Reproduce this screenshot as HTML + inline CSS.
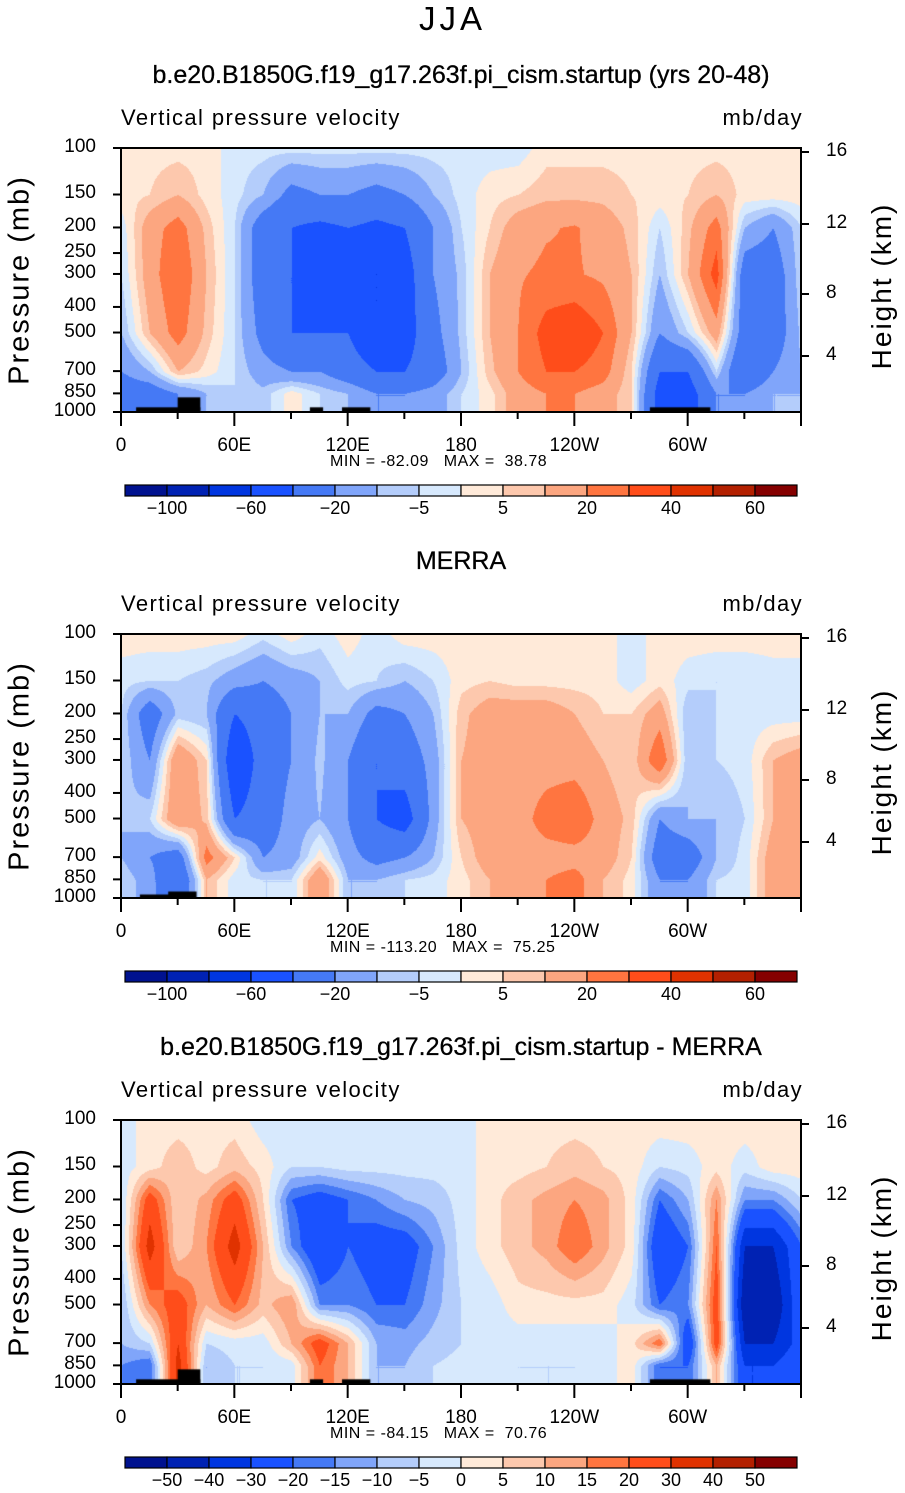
<!DOCTYPE html>
<html><head><meta charset="utf-8">
<style>
body{margin:0;background:#fff;width:905px;height:1493px;position:relative;overflow:hidden;font-family:"Liberation Sans",sans-serif;}
.t{position:absolute;white-space:nowrap;color:#000;}
canvas{position:absolute;}
</style></head>
<body>
<div class="t" style="left:0;width:905px;text-align:center;top:0px;font-size:33px;font-weight:200;letter-spacing:4px;">JJA</div>
<div id="root"></div>
<script>
const lons=[0,15,30,45,60,75,90,105,120,135,150,165,180,195,210,225,240,255,270,285,300,315,330,345,360];
const pres=[100,150,200,300,500,700,850,1000];
const levelsMain=[-100,-80,-60,-40,-20,-10,-5,0,5,10,20,30,40,50,60];
const levelsDiff=[-50,-40,-30,-20,-15,-10,-5,0,5,10,15,20,30,40,50];
const labelsMain=["-100","-60","-20","-5","5","20","40","60"];
const labelsMainIdx=[0,2,4,6,8,10,12,14];
const labelsDiff=["-50","-40","-30","-20","-15","-10","-5","0","5","10","15","20","30","40","50"];
const colors=["#00128f","#0022b3","#0036e0","#1a52ff","#4579f5","#80a5fa","#b4cdfb","#d7e9fd","#ffead9","#fdc8ad","#fca680","#ff7540","#ff4d1a","#e03200","#b32000","#850000"];
const field1=[
[3,3,3,3,-3,-3,-3,-3,-3,-3,-3,-3,-3,-3,-3,3,3,3,3,3,3,3,3,3,3],
[3,5,10,3,-3,-10,-25,-20,-20,-25,-20,-10,-3,3,5,8,8,8,5,3,5,10,3,3,3],
[-3,15,25,8,-5,-30,-40,-45,-40,-45,-40,-20,-5,5,15,19,21,15,8,-5,8,25,-10,-20,-5],
[-5,15,30,10,-5,-30,-40,-60,-40,-60,-50,-20,-8,10,19,22,21,18,10,-10,10,35,-30,-30,-5],
[-10,10,25,8,-5,-25,-40,-40,-40,-60,-50,-25,-8,10,20,35,40,30,10,-20,-5,15,-30,-30,-8],
[-20,-10,10,3,-5,-15,-20,-20,-30,-40,-40,-30,-10,8,20,30,30,25,5,-40,-40,-5,-40,-20,-10],
[-30,-30,-20,-10,-5,-8,3,-5,-10,-20,-20,-15,-5,3,15,20,20,15,5,-50,-50,-20,-20,-10,-10],
[-30,-30,-20,-10,-5,-8,3,-5,-10,-20,-20,-15,-5,3,15,20,20,15,5,-50,-50,-20,-20,-10,-10]];
const field2=[
[3,3,3,3,3,-3,3,-3,3,-3,3,3,3,3,3,3,3,3,-3,3,3,3,3,3,3],
[-3,-5,-5,-8,-15,-20,-15,-10,-3,-5,-10,-5,3,5,3,3,3,3,-3,3,-3,-5,-5,-3,-3],
[-5,-30,-8,-10,-40,-30,-20,-10,-10,-25,-20,-10,8,15,15,15,10,5,5,15,-10,-5,-3,-3,-3],
[-5,-20,20,5,-60,-30,-20,-8,-20,-40,-30,-15,10,15,15,15,15,10,5,30,-10,-5,-3,10,15],
[-10,-5,20,8,-40,-30,-15,-10,-20,-40,-50,-15,10,15,15,25,30,15,8,-20,-10,-10,-5,10,15],
[-10,-20,-30,25,5,-20,-15,3,-15,-25,-20,-10,5,15,15,15,15,15,5,-30,-30,-10,-3,15,15],
[-5,-15,-40,10,-3,-5,-5,20,-10,-10,-5,-3,3,10,15,20,25,10,3,-20,-20,-5,-3,15,15],
[-5,-15,-40,10,-3,-5,-5,20,-10,-10,-5,-3,3,10,15,20,25,10,3,-20,-20,-5,-3,15,15]];
const field3=[
[-3,3,3,3,3,-3,-3,-3,-3,-3,-3,-3,-3,3,3,3,3,3,3,3,3,3,3,3,3],
[-3,3,8,3,8,3,-5,-5,-3,-3,-3,-3,-3,3,3,5,8,5,3,-5,-3,3,-3,3,3],
[-5,25,5,12,25,5,-20,-25,-20,-15,-10,-8,-3,3,8,12,15,12,3,-20,-10,15,-15,-15,-5],
[-5,35,5,15,35,10,-15,-30,-20,-25,-25,-15,-3,3,8,12,20,12,3,-30,-20,20,-40,-40,-20],
[-10,15,25,10,20,8,15,-15,-15,-20,-20,-12,-5,-3,3,3,3,3,-3,-20,-15,25,-50,-50,-20],
[-10,-5,30,-5,-3,-3,10,25,10,-10,-12,-8,-5,-3,-3,-3,-3,-3,3,20,-30,25,-40,-40,-25],
[-15,-20,35,-10,-5,-5,-3,20,10,-10,-10,-5,-3,-3,-5,-5,-5,-3,3,-20,-20,10,-30,-30,-20],
[-15,-20,35,-10,-5,-5,-3,20,10,-10,-10,-5,-3,-3,-5,-5,-5,-3,3,-20,-20,10,-30,-30,-20]];
const topo1=[[8,42,1000,960],[30,42,1000,880],[100,107,1000,960],[117,132,1000,960],[280,312,1000,960]];
const topo2=[[10,30,1000,970],[25,40,1000,945]];
const panels=[
 {off:0,title:"b.e20.B1850G.f19_g17.263f.pi_cism.startup (yrs 20-48)",field:field1,levels:levelsMain,labels:labelsMain,labIdx:labelsMainIdx,min:"-82.09",max:"38.78",topo:topo1,name:"model"},
 {off:486,title:"MERRA",field:field2,levels:levelsMain,labels:labelsMain,labIdx:labelsMainIdx,min:"-113.20",max:"75.25",topo:topo2,name:"merra"},
 {off:972,title:"b.e20.B1850G.f19_g17.263f.pi_cism.startup - MERRA",field:field3,levels:levelsDiff,labels:labelsDiff,labIdx:[0,1,2,3,4,5,6,7,8,9,10,11,12,13,14],min:"-84.15",max:"70.76",topo:topo1,name:"difference"}];
const X0=121,X1=801,W=X1-X0,H=264;
const xs=lon=>X0+lon/360*W;
const ys=(p,top)=>top+Math.log10(p/100)*H;
const root=document.getElementById('root');
function mk(tag,css,txt){const e=document.createElement(tag);e.style.cssText=css;if(txt!==undefined)e.textContent=txt;root.appendChild(e);return e;}
function interp(f,lon,lp){
 let i=Math.min(Math.floor(lon/15),lons.length-2);let tx=(lon-lons[i])/15;
 const lpa=pres.map(p=>Math.log10(p));let j=0;while(j<pres.length-2&&lp>lpa[j+1])j++;
 let ty=(lp-lpa[j])/(lpa[j+1]-lpa[j]);ty=Math.max(0,Math.min(1,ty));
 const a=f[j][i],b=f[j][i+1],c=f[j+1][i],d=f[j+1][i+1];
 return (a*(1-tx)+b*tx)*(1-ty)+(c*(1-tx)+d*tx)*ty;}
function hex(h){return [parseInt(h.slice(1,3),16),parseInt(h.slice(3,5),16),parseInt(h.slice(5,7),16)];}
const rgb=colors.map(hex);
panels.forEach((P,pi)=>{
 const top=148+P.off;
 let e=mk('div',`position:absolute;left:0;width:922px;text-align:center;top:${P.off+61}px;font-size:25px;-webkit-text-stroke:0.3px #000;`,P.title);
 e.className='t';
 e=mk('div',`position:absolute;left:121px;top:${P.off+105}px;font-size:22px;letter-spacing:1.4px;`,"Vertical pressure velocity");
 e.className='t';
 e=mk('div',`position:absolute;right:102px;top:${P.off+105}px;font-size:22px;letter-spacing:1.4px;`,"mb/day");
 e.className='t';
 const cv=mk('canvas',`left:${X0}px;top:${top}px;`);cv.width=W;cv.height=H;
 
 const ctx=cv.getContext('2d');const img=ctx.createImageData(W,H);
 for(let y=0;y<H;y++){const lp=2+y/H;for(let x=0;x<W;x++){const v=interp(P.field,x/W*360,lp);
  let k=0;while(k<P.levels.length&&v>=P.levels[k])k++;const c=rgb[k];const o=(y*W+x)*4;
  img.data[o]=c[0];img.data[o+1]=c[1];img.data[o+2]=c[2];img.data[o+3]=255;}}
 ctx.putImageData(img,0,0);
 ctx.fillStyle='#000';
 P.topo.forEach(t=>{const x0=xs(t[0])-X0,x1=xs(t[1])-X0,y0=ys(t[3],0),y1=ys(t[2],0);ctx.fillRect(x0,y0,x1-x0,y1-y0);});
 const ns='http://www.w3.org/2000/svg';
 const svg=document.createElementNS(ns,'svg');svg.setAttribute('width',905);svg.setAttribute('height',500);
 svg.style.cssText=`position:absolute;left:0;top:${P.off}px;`;
 root.appendChild(svg);
 function ln(x1,y1,x2,y2,w){const l=document.createElementNS(ns,'line');l.setAttribute('x1',x1);l.setAttribute('y1',y1);l.setAttribute('x2',x2);l.setAttribute('y2',y2);l.setAttribute('stroke','#000');l.setAttribute('stroke-width',w||2);svg.appendChild(l);return l;}
 const rt=document.createElementNS(ns,'rect');rt.setAttribute('x',X0);rt.setAttribute('y',148);rt.setAttribute('width',W);rt.setAttribute('height',H);rt.setAttribute('fill','none');rt.setAttribute('stroke','#000');rt.setAttribute('stroke-width',2);svg.appendChild(rt);
 
 const xl=["0","60E","120E","180","120W","60W"];
 for(let lon=0;lon<=360;lon+=30){const maj=lon%60==0;ln(xs(lon),412,xs(lon),412+(maj?14:7));}
 xl.forEach((s,i)=>{const d=mk('div',`position:absolute;left:${xs(i*60)-40}px;width:80px;text-align:center;top:${P.off+435}px;font-size:19px;`,s);d.className='t';
  });
 const yl=[100,150,200,250,300,400,500,700,850,1000];
 yl.forEach(p=>{const y=ys(p,148);ln(X0-8,y,X0,y);const d=mk('div',`position:absolute;right:${905-96}px;top:${P.off+y-12}px;font-size:19px;`,String(p));d.className='t';
  });
 const hk=[[16,152],[12,224],[8,294],[4,356]];
 hk.forEach(h=>{ln(X1,h[1],X1+8,h[1]);const d=mk('div',`position:absolute;left:826px;top:${P.off+h[1]-12}px;font-size:19px;`,String(h[0]));d.className='t';
  });
 e=mk('div',`position:absolute;left:20px;top:${P.off+280}px;font-size:29px;letter-spacing:2px;transform:translate(-50%,-50%) rotate(-90deg);`,"Pressure (mb)");
 e.className='t';
 e=mk('div',`position:absolute;left:882px;top:${P.off+286}px;font-size:28px;letter-spacing:2px;transform:translate(-50%,-50%) rotate(-90deg);`,"Height (km)");
 e.className='t';
 e=mk('div',`position:absolute;left:330px;top:${P.off+453}px;font-size:16px;letter-spacing:0.5px;white-space:pre;`,`MIN = ${P.min}   MAX =  ${P.max}`);
 e.className='t';
 const cw=672/16;
 colors.forEach((c,k)=>{const r=document.createElementNS(ns,'rect');r.setAttribute('x',125+k*cw);r.setAttribute('y',485);r.setAttribute('width',cw);r.setAttribute('height',11);r.setAttribute('fill',c);r.setAttribute('stroke','#000');r.setAttribute('stroke-width',1.2);
  svg.appendChild(r);});
 P.labels.forEach((s,i)=>{const x=125+(P.labIdx[i]+1)*cw;const d=mk('div',`position:absolute;left:${x-30}px;width:60px;text-align:center;top:${P.off+498}px;font-size:18px;`,s.replace('-','\u2212'));d.className='t';
  });
});
</script>
</body></html>
